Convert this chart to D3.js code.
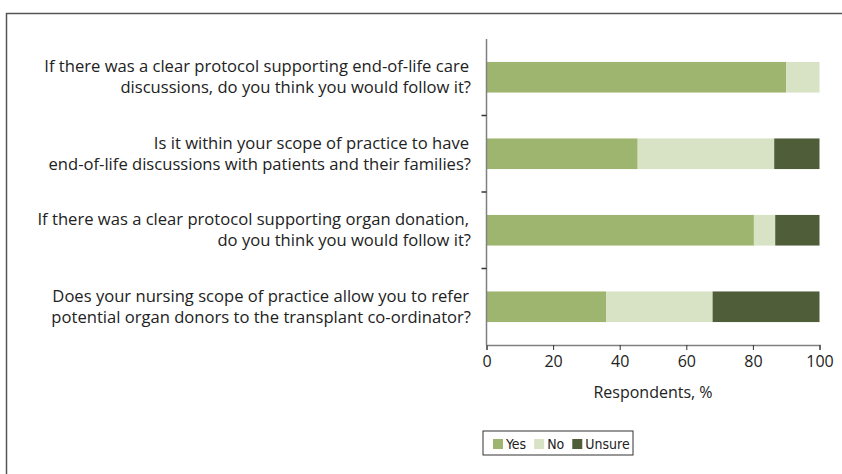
<!DOCTYPE html>
<html>
<head>
<meta charset="utf-8">
<script src="https://cdn.jsdelivr.net/npm/d3@7/dist/d3.min.js"></script>
<style>
  body { margin: 0; background: #fff; }
  svg { display: block; font-family: "Open Sans", "Noto Sans", sans-serif; }
</style>
</head>
<body>
<svg id="chart" width="842" height="474"></svg>
<script>
// Survey questions, top to bottom (each split into two lines as in the figure)
var questions = [
  ['If there was a clear protocol supporting end-of-life care', 'discussions, do you think you would follow it?'],
  ['Is it within your scope of practice to have', 'end-of-life discussions with patients and their families?'],
  ['If there was a clear protocol supporting organ donation,', 'do you think you would follow it?'],
  ['Does your nursing scope of practice allow you to refer', 'potential organ donors to the transplant co-ordinator?']
];
var seriesNames = ['Yes', 'No', 'Unsure'];
var yes    = [90, 45.4, 80.3, 35.9];
var no     = [10, 41.0, 6.4, 32.0];
var unsure = [0, 13.6, 13.3, 32.1];
var xTicks = [0, 20, 40, 60, 80, 100];
var colours = ['#9db56f', '#d8e2c5', '#4f5e38'];

(function () {
  var svg = d3.select('#chart');

  // outer frame (open to the right and bottom, cropped figure)
  svg.append('path')
    .attr('d', 'M6.5,474 V13.5 H842')
    .attr('fill', 'none').attr('stroke', '#555').attr('stroke-width', 1.5);

  var pl = 486.5, pr = 819.5, pt = 39, pb = 345;
  var x = d3.scaleLinear().domain([0, 100]).range([pl, pr]);
  var y = d3.scaleBand().domain(d3.range(questions.length)).range([pt, pb]).paddingInner(0.6).paddingOuter(0.3);
  var yEdges = d3.scaleLinear().domain([0, questions.length]).range([pt, pb]);

  var rows = questions.map(function (q, i) {
    return { i: i, Yes: yes[i], No: no[i], Unsure: unsure[i] };
  });
  var stacked = d3.stack().keys(seriesNames)(rows);

  svg.append('g').selectAll('g').data(stacked).join('g')
    .attr('fill', function (d, k) { return colours[k]; })
    .selectAll('rect').data(function (d) { return d; }).join('rect')
    .attr('x', function (d) { return x(d[0]); })
    .attr('width', function (d) { return x(d[1]) - x(d[0]); })
    .attr('y', function (d) { return y(d.data.i); })
    .attr('height', y.bandwidth());

  // y axis line with ticks between categories
  var gy = svg.append('g').attr('stroke', '#808080').attr('stroke-width', 1.5);
  gy.append('line').attr('x1', pl).attr('x2', pl).attr('y1', pt).attr('y2', pb);
  gy.selectAll('line.t').data(d3.range(1, questions.length)).join('line').attr('class', 't')
    .attr('x1', pl - 5).attr('x2', pl)
    .attr('y1', function (d) { return yEdges(d); }).attr('y2', function (d) { return yEdges(d); })
    .attr('stroke', '#333');

  // x axis
  var gx = svg.append('g').attr('transform', 'translate(0,' + pb + ')')
    .call(d3.axisBottom(x).tickValues(xTicks).tickSize(5).tickPadding(6));
  gx.select('.domain').attr('stroke', '#808080').attr('stroke-width', 1.5);
  gx.selectAll('.tick line').attr('stroke', '#333').attr('stroke-width', 1);
  gx.selectAll('.tick text').attr('font-size', 16).attr('fill', '#222')
    .attr('font-family', '"Open Sans", sans-serif');

  svg.append('text').attr('x', (pl + pr) / 2).attr('y', 398)
    .attr('text-anchor', 'middle').attr('font-size', 16).attr('fill', '#222')
    .text('Respondents, %');

  // question labels
  var lab = svg.append('g').attr('font-size', 16.6).attr('fill', '#222').attr('text-anchor', 'end');
  questions.forEach(function (q, i) {
    var cy = y(i) + y.bandwidth() / 2;
    lab.append('text').attr('x', 469).attr('y', cy - 5).text(q[0]);
    lab.append('text').attr('x', 471).attr('y', cy + 16).text(q[1]);
  });

  // legend
  var lg = svg.append('g').attr('transform', 'translate(483,431)');
  lg.append('rect').attr('width', 150).attr('height', 24)
    .attr('fill', '#fff').attr('stroke', '#333').attr('stroke-width', 1);
  var lx = 10;
  seriesNames.forEach(function (n, k) {
    var item = lg.append('g').attr('transform', 'translate(' + lx + ',0)');
    item.append('rect').attr('x', 0).attr('y', 8).attr('width', 10).attr('height', 10).attr('fill', colours[k]);
    var t = item.append('text').attr('x', 13).attr('y', 18).attr('font-size', 14)
      .attr('font-family', '"DejaVu Sans Condensed", sans-serif').attr('fill', '#222').text(n);
    lx += 13 + t.node().getComputedTextLength() + 8;
  });
})();
</script>
</body>
</html>
